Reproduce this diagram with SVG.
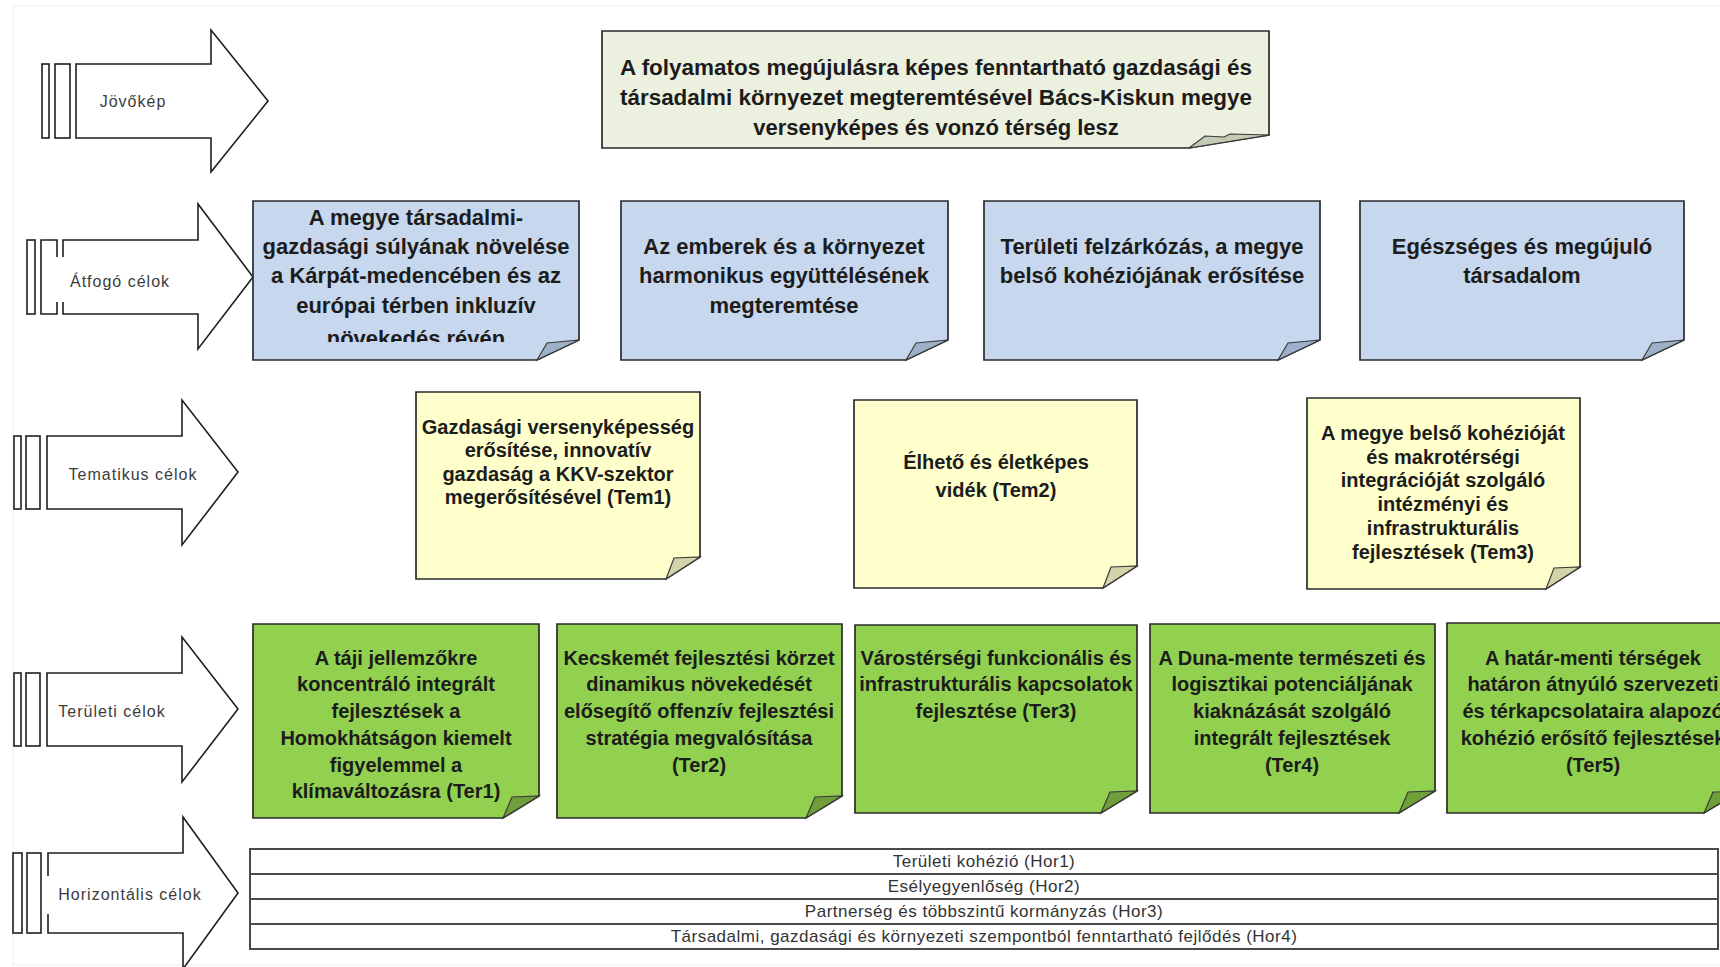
<svg xmlns="http://www.w3.org/2000/svg" width="1720" height="967" viewBox="0 0 1720 967">
<defs>
<style>
.ol{stroke:#2b2b2b;stroke-width:1.7;stroke-linejoin:miter}
.fo{stroke:#3a3a3a;stroke-width:1.2;stroke-linejoin:miter}
.ar{fill:#fff;stroke:#1e1e1e;stroke-width:1.6}
.vis{fill:#ebf1de}
.blu{fill:#c6d7ee}
.yel{fill:#ffffcc}
.grn{fill:#92d050}
.fv{fill:#c4cbb4}
.fb{fill:#9fb0ca}
.fy{fill:#d4d4aa}
.fg{fill:#6f9e3a}
.t{font-family:"Liberation Sans",Arial,sans-serif;font-weight:bold;fill:#1c1c1c;text-anchor:middle}
.t22{font-size:22px}
.t20{font-size:20px}
.lab{font-family:"Liberation Sans",Arial,sans-serif;font-size:16px;letter-spacing:1px;fill:#3c3c3c;text-anchor:middle}
.hor{font-family:"Liberation Sans",Arial,sans-serif;font-size:17px;letter-spacing:0.5px;fill:#333;text-anchor:middle}
.tbl{fill:#fff;stroke:#4a4a4a;stroke-width:2}
</style>
<clipPath id="c1"><rect x="253" y="201" width="326" height="141"/></clipPath>
</defs>
<rect x="0" y="0" width="1720" height="967" fill="#fff"/>
<rect x="13" y="6" width="1720" height="959" fill="none" stroke="#ededed" stroke-width="1"/>

<g id="arrows">
<g id="arrow-jovokep">
<rect class="ar" x="42" y="64" width="7" height="74"/>
<rect class="ar" x="55" y="64" width="15" height="74"/>
<path class="ar" d="M76,64 H211 V30 L268,101 L211,172 V138 H76 Z"/>
<text class="lab" x="133" y="107">Jövőkép</text>
</g>
<g id="arrow-atfogo">
<rect class="ar" x="27" y="240" width="8" height="74"/>
<path fill="#fff" d="M63,240 H198 V204 L253,277 L198,349 V314 H63 Z"/>
<path class="ar" fill="none" d="M57,257 V240 H41 V314 H57 V302"/>
<path class="ar" d="M63,257 V240 H198 V204 L253,277 L198,349 V314 H63 V302"/>
<text class="lab" x="120" y="287">Átfogó célok</text>
</g>
<g id="arrow-tematikus">
<rect class="ar" x="14" y="436" width="7" height="73"/>
<rect class="ar" x="26" y="436" width="14" height="73"/>
<path class="ar" d="M47,436 H182 V400 L238,472 L182,545 V509 H47 Z"/>
<text class="lab" x="133" y="480">Tematikus célok</text>
</g>
<g id="arrow-teruleti">
<rect class="ar" x="14" y="673" width="7" height="73"/>
<rect class="ar" x="26" y="673" width="14" height="73"/>
<path class="ar" d="M47,673 H182 V637 L238,709 L182,782 V746 H47 Z"/>
<text class="lab" x="112" y="717">Területi célok</text>
</g>
<g id="arrow-horizontalis">
<rect class="ar" x="13" y="853" width="9" height="80"/>
<rect class="ar" x="27" y="853" width="14" height="80"/>
<path fill="#fff" d="M48,853 H183 V817 L238,893 L183,969 V933 H48 Z"/>
<path class="ar" d="M48,876 V853 H183 V817 L238,893 L183,969 V933 H48 V914"/>
<text class="lab" x="130" y="900">Horizontális célok</text>
</g>
</g>

<g id="vision">
<path class="ol vis" d="M602,31 H1269 V135 L1189,148 H602 Z"/>
<polygon class="fo fv" points="1189,148 1205,136 1224,137 1230,134 1269,135"/>
<text class="t t22" x="936" y="75" textLength="632" lengthAdjust="spacingAndGlyphs">A folyamatos megújulásra képes fenntartható gazdasági és</text>
<text class="t t22" x="936" y="105" textLength="632" lengthAdjust="spacingAndGlyphs">társadalmi környezet megteremtésével Bács-Kiskun megye</text>
<text class="t t22" x="936" y="135">versenyképes és vonzó térség lesz</text>
</g>

<g id="atfogo-1">
<path class="ol blu" d="M253,201 H579 V340 L537,360 H253 Z"/>
<polygon class="fo fb" points="537,360 547,343 579,340"/>
<g clip-path="url(#c1)">
<text class="t t22" x="416" y="225">A megye társadalmi-</text>
<text class="t t22" x="416" y="254">gazdasági súlyának növelése</text>
<text class="t t22" x="416" y="283">a Kárpát-medencében és az</text>
<text class="t t22" x="416" y="313">európai térben inkluzív</text>
<text class="t t22" x="416" y="346">növekedés révén</text>
</g>
</g>
<g id="atfogo-2">
<path class="ol blu" d="M621,201 H948 V340 L906,360 H621 Z"/>
<polygon class="fo fb" points="906,360 916,343 948,340"/>
<text class="t t22" x="784" y="254">Az emberek és a környezet</text>
<text class="t t22" x="784" y="283">harmonikus együttélésének</text>
<text class="t t22" x="784" y="313">megteremtése</text>
</g>
<g id="atfogo-3">
<path class="ol blu" d="M984,201 H1320 V340 L1278,360 H984 Z"/>
<polygon class="fo fb" points="1278,360 1288,343 1320,340"/>
<text class="t t22" x="1152" y="254">Területi felzárkózás, a megye</text>
<text class="t t22" x="1152" y="283">belső kohéziójának erősítése</text>
</g>
<g id="atfogo-4">
<path class="ol blu" d="M1360,201 H1684 V340 L1642,360 H1360 Z"/>
<polygon class="fo fb" points="1642,360 1652,343 1684,340"/>
<text class="t t22" x="1522" y="254">Egészséges és megújuló</text>
<text class="t t22" x="1522" y="283">társadalom</text>
</g>

<g id="tem1">
<path class="ol yel" d="M416,392 H700 V557 L666,579 H416 Z"/>
<polygon class="fo fy" points="666,579 674,558 700,557"/>
<text class="t t20" x="558" y="434">Gazdasági versenyképesség</text>
<text class="t t20" x="558" y="457">erősítése, innovatív</text>
<text class="t t20" x="558" y="481">gazdaság a KKV-szektor</text>
<text class="t t20" x="558" y="504">megerősítésével (Tem1)</text>
</g>
<g id="tem2">
<path class="ol yel" d="M854,400 H1137 V566 L1103,588 H854 Z"/>
<polygon class="fo fy" points="1103,588 1111,567 1137,566"/>
<text class="t t20" x="996" y="469">Élhető és életképes</text>
<text class="t t20" x="996" y="497">vidék (Tem2)</text>
</g>
<g id="tem3">
<path class="ol yel" d="M1307,398 H1580 V567 L1546,589 H1307 Z"/>
<polygon class="fo fy" points="1546,589 1554,568 1580,567"/>
<text class="t t20" x="1443" y="440">A megye belső kohézióját</text>
<text class="t t20" x="1443" y="464">és makrotérségi</text>
<text class="t t20" x="1443" y="487">integrációját szolgáló</text>
<text class="t t20" x="1443" y="511">intézményi és</text>
<text class="t t20" x="1443" y="535">infrastrukturális</text>
<text class="t t20" x="1443" y="559">fejlesztések (Tem3)</text>
</g>

<g id="ter1">
<path class="ol grn" d="M253,624 H539 V796 L503,818 H253 Z"/>
<polygon class="fo fg" points="503,818 512,797 539,796"/>
<text class="t t20" x="396" y="665">A táji jellemzőkre</text>
<text class="t t20" x="396" y="691">koncentráló integrált</text>
<text class="t t20" x="396" y="718">fejlesztések a</text>
<text class="t t20" x="396" y="745">Homokhátságon kiemelt</text>
<text class="t t20" x="396" y="772">figyelemmel a</text>
<text class="t t20" x="396" y="798">klímaváltozásra (Ter1)</text>
</g>
<g id="ter2">
<path class="ol grn" d="M557,624 H842 V796 L806,818 H557 Z"/>
<polygon class="fo fg" points="806,818 815,797 842,796"/>
<text class="t t20" x="699" y="665">Kecskemét fejlesztési körzet</text>
<text class="t t20" x="699" y="691">dinamikus növekedését</text>
<text class="t t20" x="699" y="718">elősegítő offenzív fejlesztési</text>
<text class="t t20" x="699" y="745">stratégia megvalósítása</text>
<text class="t t20" x="699" y="772">(Ter2)</text>
</g>
<g id="ter3">
<path class="ol grn" d="M855,625 H1137 V791 L1101,813 H855 Z"/>
<polygon class="fo fg" points="1101,813 1110,792 1137,791"/>
<text class="t t20" x="996" y="665">Várostérségi funkcionális és</text>
<text class="t t20" x="996" y="691">infrastrukturális kapcsolatok</text>
<text class="t t20" x="996" y="718">fejlesztése (Ter3)</text>
</g>
<g id="ter4">
<path class="ol grn" d="M1150,624 H1435 V791 L1399,813 H1150 Z"/>
<polygon class="fo fg" points="1399,813 1408,792 1435,791"/>
<text class="t t20" x="1292" y="665">A Duna-mente természeti és</text>
<text class="t t20" x="1292" y="691">logisztikai potenciáljának</text>
<text class="t t20" x="1292" y="718">kiaknázását szolgáló</text>
<text class="t t20" x="1292" y="745">integrált fejlesztések</text>
<text class="t t20" x="1292" y="772">(Ter4)</text>
</g>
<g id="ter5">
<path class="ol grn" d="M1447,623 H1740 V791 L1704,813 H1447 Z"/>
<polygon class="fo fg" points="1704,813 1713,792 1740,791"/>
<text class="t t20" x="1593" y="665">A határ-menti térségek</text>
<text class="t t20" x="1593" y="691">határon átnyúló szervezeti</text>
<text class="t t20" x="1593" y="718">és térkapcsolataira alapozó</text>
<text class="t t20" x="1593" y="745">kohézió erősítő fejlesztések</text>
<text class="t t20" x="1593" y="772">(Ter5)</text>
</g>

<g id="horizontal">
<rect class="tbl" x="250" y="849" width="1468" height="100"/>
<line class="tbl" x1="250" y1="874" x2="1718" y2="874"/>
<line class="tbl" x1="250" y1="899" x2="1718" y2="899"/>
<line class="tbl" x1="250" y1="924" x2="1718" y2="924"/>
<text class="hor" x="984" y="867">Területi kohézió (Hor1)</text>
<text class="hor" x="984" y="892">Esélyegyenlőség (Hor2)</text>
<text class="hor" x="984" y="917">Partnerség és többszintű kormányzás (Hor3)</text>
<text class="hor" x="984" y="942">Társadalmi, gazdasági és környezeti szempontból fenntartható fejlődés (Hor4)</text>
</g>
</svg>
